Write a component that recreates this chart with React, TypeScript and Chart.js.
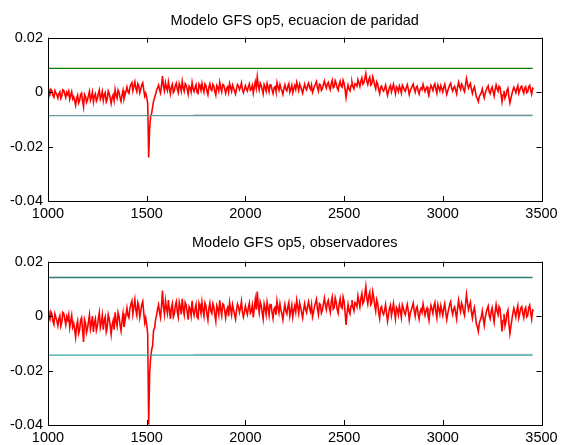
import React, { useEffect, useRef } from "react";
import { Chart, registerables } from "chart.js";

Chart.register(...registerables);

// sample positions: main readings every 10 samples from 1000,
// in-between readings every 10 samples from 1005
const X_START = 1000;
const X_STEP = 10;
const X_HALF = 5;

// Upper panel signal (ecuacion de paridad), units of 1e-3, at 1000, 1010, ...
const paridadMilli = [
  1.2, -0.8, 0.4, -1.9, -0.3, -2.2, 0.1, -1.4, 0.6, -2.0,
  -0.9, -2.6, 0.2, -1.7, -4.8, -1.1, -3.2, -0.4, -5.4, -1.6,
  -2.9, 0.3, -1.8, -3.6, -0.6, -2.4, 0.8, -1.5, -3.1, -0.2,
  -2.7, -0.5, -4.2, -1.0, 0.9, -2.3, -0.1, -3.4, 0.6, -1.2,
  1.9, -0.4, 2.8, 0.5, 3.8, 0.2, 2.3, 1.1, 3.4, -1.5,
  -2.0, -24.0, -9.0, -5.4, -2.0, 0.7, 2.6, -0.3, 5.9, 0.4,
  1.8, 3.7, -0.6, 2.9, 0.5, 3.3, -0.2, 2.1, 4.0, 0.3,
  2.5, -0.8, 1.6, 3.5, 0.2, 2.7, -0.5, 1.9, 3.2, 0.0,
  2.4, -0.9, 3.0, 0.6, 2.2, -1.1, 1.7, 3.6, 0.1, 2.6,
  -0.4, 2.0, 3.1, 0.3, 1.5, -0.7, 2.8, 0.9, 3.4, -0.2,
  2.3, 0.4, 3.0, 1.1, -0.3, 3.8, 5.6, 0.8, 2.5, -0.6,
  1.9, 3.2, 0.2, 2.6, -0.5, 2.0, 3.5, 0.7, 1.4, -0.8,
  2.7, 0.5, 3.1, 1.2, -0.2, 2.4, 3.6, 0.6, 2.0, -0.4,
  2.9, 0.8, 3.3, 1.0, -0.1, 2.2, 3.9, 0.4, 2.6, 1.3,
  4.1, 1.5, 3.6, 0.9, 4.4, 2.0, 3.2, 0.7, 4.0, 1.8,
  3.3, -2.0, 2.6, 0.5, 3.7, 1.2, 2.9, 4.6, 2.1, 5.2,
  3.4, 6.8, 2.8, 5.5, 3.1, 4.3, 1.2, 3.0, -0.5, 2.2,
  0.4, 2.6, -1.2, 1.8, 0.1, 2.9, -0.6, 1.5, 2.3, -0.3,
  1.9, 0.3, 2.7, -0.9, 1.4, 3.0, 0.0, 2.2, -0.7, 1.6,
  2.8, 0.2, 1.9, -1.0, 2.5, 0.6, 3.1, -0.4, 1.7, 2.4,
  0.1, 2.9, -0.8, 1.6, 3.3, 0.4, 2.1, -0.6, 3.6, 1.0,
  2.4, 0.2, 5.0, 1.5, 3.2, -0.5, 2.0, -1.8, -3.5, -0.9,
  1.2, -2.1, 0.8, 2.3, -0.6, 1.9, -1.4, 2.6, 0.3, 1.7,
  -3.5, 0.5, -1.2, 1.4, -4.0, -0.8, 1.8, -0.2, 2.4, 0.6,
  2.2, -0.4, 2.0, 0.1, 2.5, -0.7, 1.1,
];

// Upper panel, in-between readings at 1005, 1015, ...
const paridadMidMilli = [
  -0.2, 1.0, -1.2, 0.5, -1.0, -0.6, -2.3, 0.9, -0.7, -0.1,
  0.3, -1.1, -2.5, -3.0, -2.2, -4.0, -1.0, -3.1, -0.8, -3.8,
  -1.2, -3.0, 0.0, -1.5, -3.3, -0.5, -2.6, 0.2, -1.0, -3.6,
  0.4, -2.1, -2.0, -3.1, -1.2, 0.8, -2.0, -1.1, -2.5, 0.3,
  0.2, 1.7, 3.5, 2.2, 1.4, 3.1, -0.3, 2.6, 0.8, -0.4,
  -4.0, -13.0, -7.8, -3.2, -0.9, 1.6, 0.9, 2.4, 2.0, 3.5,
  0.6, 1.5, 1.9, -0.2, 2.4, 1.0, 3.2, 0.4, 1.7, 3.1,
  1.0, 2.2, 0.1, 1.2, 1.6, -0.1, 2.9, 0.6, 1.3, 3.0,
  0.5, 1.8, 1.1, 2.9, 0.3, 2.4, 0.4, 1.5, 2.8, 1.2,
  1.4, 0.0, 1.7, 2.6, 0.4, 1.3, 2.2, 1.9, 0.9, 1.0,
  1.2, 2.0, 0.7, 2.5, 1.9, 1.5, 2.4, 3.3, 0.9, 2.8,
  0.4, 1.8, 2.7, 0.9, 1.6, 0.3, 1.9, 2.8, 0.5, 1.3,
  1.1, 2.2, 0.0, 2.5, 1.3, 1.0, 2.1, 3.0, 0.8, 1.5,
  1.5, 2.4, 1.8, 2.6, 0.9, 3.0, 1.6, 2.9, 0.7, 2.7,
  2.6, 3.0, 1.9, 3.3, 1.6, 4.2, 1.5, 2.8, 2.2, 4.4,
  0.9, 0.6, 1.2, 2.4, 2.0, 3.1, 2.2, 3.4, 4.0, 2.9,
  5.0, 4.1, 4.6, 2.6, 5.6, 2.5, 3.8, 0.9, 1.8, 0.9,
  1.3, 0.7, 0.4, 2.5, 1.4, 1.0, 2.0, 0.3, 1.2, 2.6,
  0.8, 1.6, 1.2, 0.6, 2.2, 1.3, 1.7, 0.5, 1.0, 0.9,
  1.4, 1.3, 0.2, 1.1, 1.6, 2.3, 1.0, 2.6, 0.5, 1.2,
  1.8, 0.9, 0.5, 2.7, 1.4, 1.6, 0.8, 1.9, 2.0, 3.0,
  1.0, 2.6, 3.1, 2.4, 1.0, 1.1, 0.2, -2.4, -1.6, -0.2,
  -0.6, -0.3, 1.7, 0.1, 1.0, 0.2, 0.9, 1.2, 2.2, -0.8,
  -1.0, -2.2, 0.6, -1.9, -2.3, 0.7, 0.9, 1.3, -0.4, 1.9,
  0.6, 1.5, -0.2, 1.9, 0.8, 1.4,
];

// Lower panel signal (observadores), units of 1e-3, at 1000, 1010, ...
const observMilli = [
  2.0, -1.3, 0.6, -3.0, -0.5, -3.5, 0.2, -2.2, 1.0, -3.2,
  -1.4, -4.2, 0.3, -2.7, -7.7, -1.8, -5.1, -0.6, -9.5, -2.6,
  -4.6, 0.5, -2.9, -5.8, -1.0, -3.8, 1.3, -2.4, -5.0, -0.3,
  -4.3, -0.8, -6.7, -1.6, 1.4, -3.7, -0.2, -5.4, 1.0, -1.9,
  3.0, -0.6, 4.5, 0.8, 6.1, 0.3, 3.7, 1.8, 5.4, -2.4,
  -3.2, -39.8, -15.4, -10.7, -4.4, 0.4, 4.2, -0.5, 9.4, 0.6,
  2.9, 5.9, -1.0, 4.6, 0.8, 5.3, -0.3, 3.4, 6.4, 0.5,
  4.0, -1.3, 2.6, 5.6, 0.3, 4.3, -0.8, 3.0, 5.1, 0.0,
  3.8, -1.4, 4.8, 1.0, 3.5, -1.8, 2.7, 5.8, 0.2, 4.2,
  -0.6, 3.2, 5.0, 0.5, 2.4, -1.1, 4.5, 1.4, 5.4, -0.3,
  3.7, 0.6, 4.8, 1.8, -0.5, 6.1, 9.0, 1.3, 4.0, -1.0,
  3.0, 5.1, 0.3, 4.2, -0.8, 3.2, 5.6, 1.1, 2.2, -1.3,
  4.3, 0.8, 5.0, 1.9, -0.3, 3.8, 5.8, 1.0, 3.2, -0.6,
  4.6, 1.3, 5.3, 1.6, -0.2, 3.5, 6.2, 0.6, 4.2, 2.1,
  6.6, 2.4, 5.8, 1.4, 7.0, 3.2, 5.1, 1.1, 6.4, 2.9,
  5.3, -3.2, 4.2, 0.8, 5.9, 1.9, 4.6, 7.4, 3.4, 8.3,
  5.4, 10.9, 4.5, 8.8, 5.0, 6.9, 1.9, 4.8, -0.8, 3.5,
  0.6, 4.2, -1.9, 2.9, 0.2, 4.6, -1.0, 2.4, 3.7, -0.5,
  3.0, 0.5, 4.3, -1.4, 2.2, 4.8, 0.0, 3.5, -1.1, 2.6,
  4.5, 0.3, 3.0, -1.6, 4.0, 1.0, 5.0, -0.6, 2.7, 3.8,
  0.2, 4.6, -1.3, 2.6, 5.3, 0.6, 3.4, -1.0, 5.8, 1.6,
  3.8, 0.3, 8.0, 2.4, 5.1, -0.8, 3.2, -2.9, -5.6, -1.4,
  1.9, -3.4, 1.3, 3.7, -1.0, 3.0, -2.2, 4.2, 0.5, 2.7,
  -5.6, 0.8, -1.9, 2.2, -6.4, -1.3, 2.9, -0.3, 3.8, 1.0,
  3.5, -0.6, 3.2, 0.2, 4.0, -1.1, 1.8,
];

// Lower panel, in-between readings at 1005, 1015, ...
const observMidMilli = [
  -0.3, 1.6, -1.9, 0.8, -1.6, -1.0, -3.7, 1.4, -1.1, -0.2,
  0.5, -1.8, -4.0, -4.8, -3.5, -6.4, -1.6, -5.0, -1.3, -6.1,
  -1.9, -4.8, 0.0, -2.4, -5.3, -0.8, -4.2, 0.3, -1.6, -5.8,
  0.6, -3.4, -3.2, -5.0, -1.9, 1.3, -3.2, -1.8, -4.0, 0.5,
  0.3, 2.7, 5.6, 3.5, 2.2, 5.0, -0.5, 4.2, 1.3, -0.6,
  -6.4, -20.8, -12.5, -5.1, -1.4, 2.6, 1.4, 3.8, 3.2, 5.6,
  1.0, 2.4, 3.0, -0.3, 3.8, 1.6, 5.1, 0.6, 2.7, 5.0,
  1.6, 3.5, 0.2, 1.9, 2.6, -0.2, 4.6, 1.0, 2.1, 4.8,
  0.8, 2.9, 1.8, 4.6, 0.5, 3.8, 0.6, 2.4, 4.5, 1.9,
  2.2, 0.0, 2.7, 4.2, 0.6, 2.1, 3.5, 3.0, 1.4, 1.6,
  1.9, 3.2, 1.1, 4.0, 3.0, 2.4, 3.8, 5.3, 1.4, 4.5,
  0.6, 2.9, 4.3, 1.4, 2.6, 0.5, 3.0, 4.5, 0.8, 2.1,
  1.8, 3.5, 0.0, 4.0, 2.1, 1.6, 3.4, 4.8, 1.3, 2.4,
  2.4, 3.8, 2.9, 4.2, 1.4, 4.8, 2.6, 4.6, 1.1, 4.3,
  4.2, 4.8, 3.0, 5.3, 2.6, 6.7, 2.4, 4.5, 3.5, 7.0,
  1.4, 1.0, 1.9, 3.8, 3.2, 5.0, 3.5, 5.4, 6.4, 4.6,
  8.0, 6.6, 7.4, 4.2, 9.0, 4.0, 6.1, 1.4, 2.9, 1.4,
  2.1, 1.1, 0.6, 4.0, 2.2, 1.6, 3.2, 0.5, 1.9, 4.2,
  1.3, 2.6, 1.9, 1.0, 3.5, 2.1, 2.7, 0.8, 1.6, 1.4,
  2.2, 2.1, 0.3, 1.8, 2.6, 3.7, 1.6, 4.2, 0.8, 1.9,
  2.9, 1.4, 0.8, 4.3, 2.2, 2.6, 1.3, 3.0, 3.2, 4.8,
  1.6, 4.2, 5.0, 3.8, 1.6, 1.8, 0.3, -3.8, -2.6, -0.3,
  -1.0, -0.5, 2.7, 0.2, 1.6, 0.3, 1.4, 1.9, 3.5, -1.3,
  -1.6, -3.5, 1.0, -3.0, -3.7, 1.1, 1.4, 2.1, -0.6, 3.0,
  1.0, 2.4, -0.3, 3.0, 1.3, 2.2,
];

// threshold lines
const thresholdSpan = [1000, 3455];
const grayOverlaySpan = [1735, 3455];
const paridadUpper = 0.0087;
const paridadLower = -0.0086;
const observUpper = 0.0142;
const observLower = -0.0143;

const xTicks = [1000, 1500, 2000, 2500, 3000, 3500];
const xTickLabels = ["1000", "1500", "2000", "2500", "3000", "3500"];
const yTicks = [-0.04, -0.02, 0, 0.02];
const yTickLabels = ["-0.04", "-0.02", "0", "0.02"];

const titles = ["Modelo GFS op5, ecuacion de paridad", "Modelo GFS op5, observadores"];

const FONT = '"Liberation Sans", Arial, Helvetica, sans-serif';

function toPoints(main: number[], mid: number[]) {
  const pts: { x: number; y: number }[] = [];
  main.forEach((v, i) => {
    pts.push({ x: X_START + i * X_STEP, y: v / 1000 });
    if (i < mid.length) pts.push({ x: X_START + i * X_STEP + X_HALF, y: mid[i] / 1000 });
  });
  return pts;
}

function hline(span: number[], value: number) {
  return span.map((x) => ({ x, y: value }));
}

const framePlugin = {
  id: "matlabFrame",
  afterDatasetsDraw(chart: any, _args: any, opts: any) {
    const { ctx, chartArea, scales } = chart;
    const { left, right, top, bottom } = chartArea;
    const xs = scales.x;
    const ys = scales.y;
    ctx.save();
    ctx.strokeStyle = "#000";
    ctx.lineWidth = 1;
    ctx.strokeRect(Math.round(left) + 0.5, Math.round(top) + 0.5, Math.round(right - left), Math.round(bottom - top));
    const tl = 5;
    ctx.beginPath();
    xTicks.forEach((v) => {
      const px = Math.round(xs.getPixelForValue(v)) + 0.5;
      ctx.moveTo(px, bottom);
      ctx.lineTo(px, bottom - tl);
      ctx.moveTo(px, top);
      ctx.lineTo(px, top + tl);
    });
    yTicks.forEach((v) => {
      const py = Math.round(ys.getPixelForValue(v)) + 0.5;
      ctx.moveTo(left, py);
      ctx.lineTo(left + tl, py);
      ctx.moveTo(right, py);
      ctx.lineTo(right - tl, py);
    });
    ctx.stroke();
    ctx.fillStyle = "#000";
    ctx.font = `14.5px ${FONT}`;
    ctx.textAlign = "center";
    ctx.textBaseline = "middle";
    ctx.fillText(opts.text, (left + right) / 2, top - opts.offset);
    ctx.restore();
  },
};

function makeConfig(idx: number) {
  const signal = idx === 0 ? toPoints(paridadMilli, paridadMidMilli) : toPoints(observMilli, observMidMilli);
  const upper = idx === 0 ? paridadUpper : observUpper;
  const lower = idx === 0 ? paridadLower : observLower;
  const upperColor = idx === 0 ? "#008000" : "#2b7d78";
  const lowerColor = idx === 0 ? "#6b9c9c" : "#3aa9a9";
  const padTop = idx === 0 ? 37.7 : 39.7;
  const xHeight = idx === 0 ? 21 : 20;
  return {
    type: "line",
    data: {
      datasets: [
        {
          data: hline(thresholdSpan, upper),
          borderColor: upperColor,
          borderWidth: 1.3,
          pointRadius: 0,
        },
        {
          data: hline(thresholdSpan, lower),
          borderColor: lowerColor,
          borderWidth: 1.3,
          pointRadius: 0,
        },
        {
          data: hline(grayOverlaySpan, lower + 0.0003),
          borderColor: "rgba(180,180,180,0.8)",
          borderWidth: 1,
          pointRadius: 0,
        },
        {
          data: signal,
          borderColor: "#ff0000",
          borderWidth: 1.6,
          pointRadius: 0,
          tension: 0,
        },
      ],
    },
    options: {
      animation: false,
      responsive: false,
      events: [],
      layout: { padding: { left: 0, right: 24.5, top: padTop, bottom: 0 } },
      plugins: {
        legend: { display: false },
        tooltip: { enabled: false },
        title: { display: false },
        matlabFrame: { text: titles[idx], offset: idx === 0 ? 17 : 18.4 },
      },
      scales: {
        x: {
          type: "linear",
          min: 1000,
          max: 3500,
          grid: { display: false, drawTicks: false },
          border: { display: false },
          afterFit: (s: any) => {
            s.height = xHeight;
          },
          afterBuildTicks: (s: any) => {
            s.ticks = xTicks.map((v) => ({ value: v }));
          },
          ticks: {
            autoSkip: false,
            maxRotation: 0,
            padding: 4,
            color: "#000",
            font: { family: FONT, size: 14.5 },
            callback: (v: number) => xTickLabels[xTicks.indexOf(v)] ?? String(v),
          },
        },
        y: {
          type: "linear",
          min: -0.04,
          max: 0.02,
          grid: { display: false, drawTicks: false },
          border: { display: false },
          afterFit: (s: any) => {
            s.width = 48;
          },
          afterBuildTicks: (s: any) => {
            s.ticks = yTicks.map((v) => ({ value: v }));
          },
          ticks: {
            padding: 5,
            color: "#000",
            font: { family: FONT, size: 14.5 },
            callback: (v: number) => {
              const i = yTicks.findIndex((t) => Math.abs(t - v) < 1e-9);
              return i >= 0 ? yTickLabels[i] : String(v);
            },
          },
        },
      },
    },
    plugins: [framePlugin],
  };
}

function Panel({ idx, top, height }: { idx: number; top: number; height: number }) {
  const ref = useRef<HTMLCanvasElement | null>(null);
  useEffect(() => {
    if (!ref.current) return;
    const chart = new Chart(ref.current, makeConfig(idx) as any);
    return () => chart.destroy();
  }, [idx]);
  return (
    <canvas
      ref={ref}
      width={566}
      height={height}
      style={{ position: "absolute", left: 0, top, width: 566, height, display: "block" }}
    />
  );
}

export default function App() {
  return (
    <div style={{ position: "absolute", left: 0, top: 0, width: 566, height: 445, background: "#fff" }}>
      <Panel idx={0} top={0} height={222} />
      <Panel idx={1} top={222} height={223} />
    </div>
  );
}
